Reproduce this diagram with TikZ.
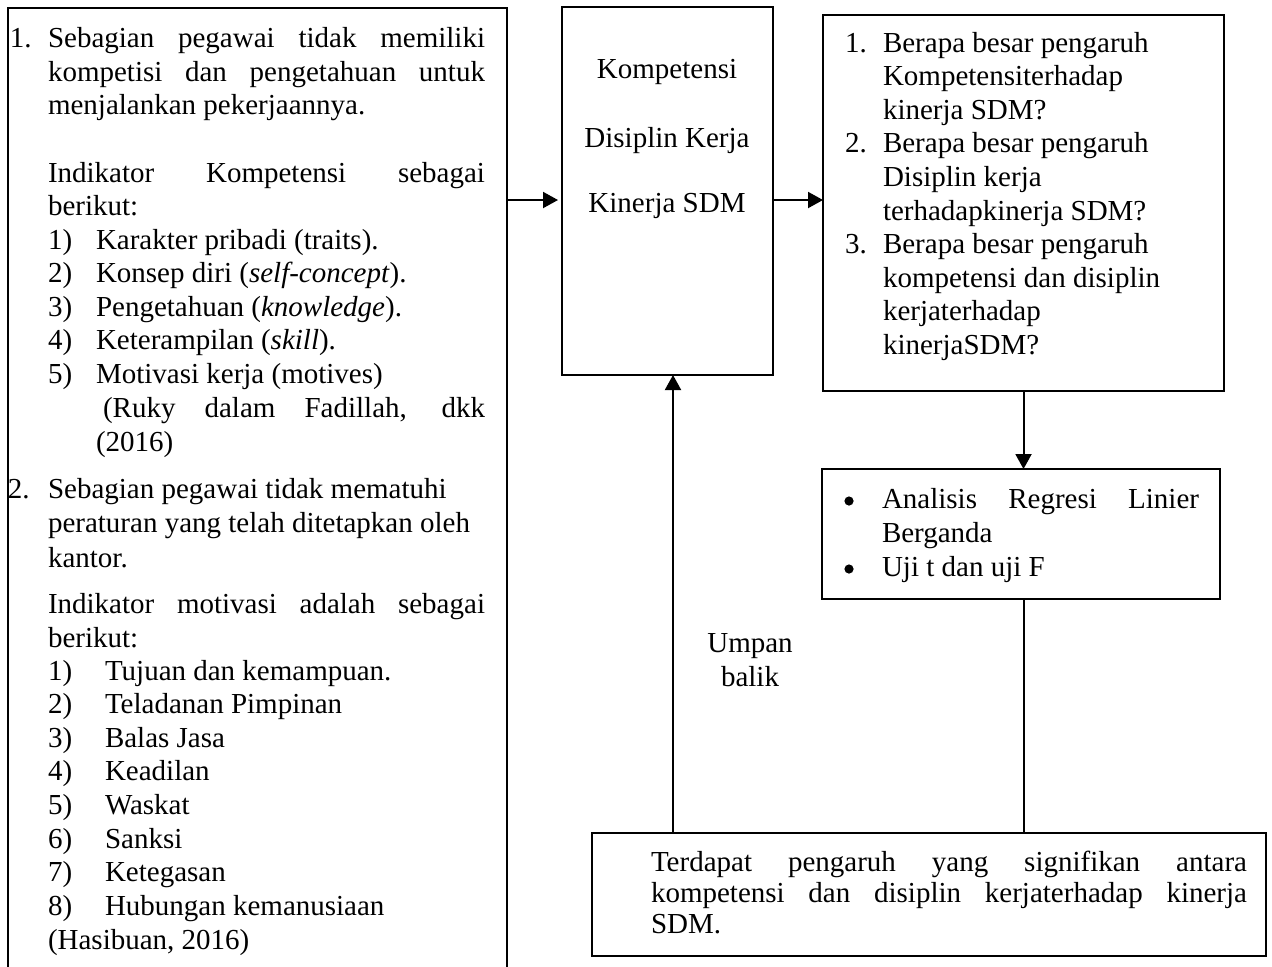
\documentclass[tikz,border=0pt]{standalone}
\usepackage{fontspec}
\setmainfont{Liberation Serif}
\usetikzlibrary{arrows.meta}
\tikzset{
    txt/.style={anchor=base west,inner sep=0pt,outer sep=0pt},
    ctxt/.style={anchor=base,inner sep=0pt,outer sep=0pt},
    box/.style={draw,line width=1pt,anchor=north west,inner sep=0pt,outer sep=0pt},
    dot/.style={circle,fill,inner sep=0pt,minimum size=4.6pt},
    arr/.style={-{Triangle[length=7.5pt,width=8pt]},line width=1pt}
}

\begin{document}
\begin{tikzpicture}[x=0.5pt,y=-0.5pt,font=\fontsize{14.5}{16.8}\selectfont]
            \useasboundingbox (0,0) rectangle (1272,966);

            \node[anchor=north west,inner sep=0pt,outer sep=0pt,minimum width=249.5pt,minimum height=481pt] (leftbox) at (8,8) {};
            \draw[line width=1.3pt] (leftbox.south west)--(leftbox.north west)--(leftbox.north east)--(leftbox.south east);
            \node[box,minimum width=105.5pt,minimum height=184pt] (midbox) at (562,7) {};
            \node[box,minimum width=200.5pt,minimum height=188pt] (qbox) at (823,15) {};
            \node[box,minimum width=199pt,minimum height=65pt] (anbox) at (822,469) {};
            \node[box,minimum width=337pt,minimum height=61.5pt] (resbox) at (592,833) {};

            \node[txt] (n1) at (10,47) {1.};
            \node[txt] (a1) at (48,47) {\makebox[218.5pt][s]{Sebagian pegawai tidak memiliki}};
            \node[txt] (a2) at (48,81) {\makebox[218.5pt][s]{kompetisi dan pengetahuan untuk}};
            \node[txt] (a3) at (48,114) {menjalankan pekerjaannya.};
            \node[txt] (a4) at (48,182) {\makebox[218.5pt][s]{Indikator Kompetensi sebagai}};
            \node[txt] (a5) at (48,215) {berikut:};
            \foreach \n/\t [count=\i from 0] in {1/{Karakter pribadi (traits).},2/{Konsep diri (\textit{self-concept}).},3/{Pengetahuan (\textit{knowledge}).},4/{Keterampilan (\textit{skill}).},5/{Motivasi kerja (motives)}}{
                \node[txt] (k\n) at (48,249+33.6*\i) {\n)};
                \node[txt] (kt\n) at (96,249+33.6*\i) {\t};
            }
            \node[txt] (a6) at (103,417) {\makebox[191pt][s]{(Ruky dalam Fadillah, dkk}};
            \node[txt] (a7) at (96,451) {(2016)};

            \node[txt] (n2) at (8,498) {2.};
            \node[txt] (b1) at (48,498) {Sebagian pegawai tidak mematuhi};
            \node[txt] (b2) at (48,532) {peraturan yang telah ditetapkan oleh};
            \node[txt] (b3) at (48,567) {kantor.};
            \node[txt] (b4) at (48,613) {\makebox[218.5pt][s]{Indikator motivasi adalah sebagai}};
            \node[txt] (b5) at (48,647) {berikut:};
            \foreach \n/\t [count=\i from 0] in {1/{Tujuan dan kemampuan.},2/{Teladanan Pimpinan},3/{Balas Jasa},4/{Keadilan},5/{Waskat},6/{Sanksi},7/{Ketegasan},8/{Hubungan kemanusiaan}}{
                \node[txt] (m\n) at (48,680+33.6*\i) {\n)};
                \node[txt] (mt\n) at (105,680+33.6*\i) {\t};
            }
            \node[txt] (b6) at (48,949) {(Hasibuan, 2016)};

            \node[ctxt] (v1) at (667,78) {Kompetensi};
            \node[ctxt] (v2) at (667,147) {Disiplin Kerja};
            \node[ctxt] (v3) at (667,212) {Kinerja SDM};

            \node[txt] (qn1) at (845,52) {1.};
            \node[txt] (qn2) at (845,152.8) {2.};
            \node[txt] (qn3) at (845,253.6) {3.};
            \foreach \t [count=\i from 0] in {Berapa besar pengaruh,Kompetensiterhadap,kinerja SDM?,Berapa besar pengaruh,Disiplin kerja,terhadapkinerja SDM?,Berapa besar pengaruh,kompetensi dan disiplin,kerjaterhadap,kinerjaSDM?}{
                \node[txt] (q\i) at (883,52+33.6*\i) {\t};
            }

            \node[dot] (d1) at (849,501) {};
            \node[dot] (d2) at (849,569) {};
            \node[txt] (s1) at (882,508) {\makebox[158.5pt][s]{Analisis Regresi Linier}};
            \node[txt] (s2) at (882,542) {Berganda};
            \node[txt] (s3) at (882,576) {Uji t dan uji F};

            \node[txt] (r1) at (651,871) {\makebox[298pt][s]{Terdapat pengaruh yang signifikan antara}};
            \node[txt] (r2) at (651,902) {\makebox[298pt][s]{kompetensi dan disiplin kerjaterhadap kinerja}};
            \node[txt] (r3) at (651,933) {SDM.};

            \node[ctxt] (u1) at (750,652) {Umpan};
            \node[ctxt] (u2) at (750,686) {balik};

            \coordinate (lvl) at (0,200);
            \coordinate (fb) at (673,0);
            \draw[arr,shorten >=2pt] (leftbox.east |- lvl)--(midbox.west |- lvl);
            \draw[arr] (midbox.east |- lvl)--(qbox.west |- lvl);
            \draw[arr] (qbox.south)--(qbox.south |- anbox.north);
            \draw[line width=1pt] (qbox.south |- anbox.south)--(qbox.south |- resbox.north);
            \draw[arr] (fb |- resbox.north)--(fb |- midbox.south);
        \end{tikzpicture}
\end{document}
